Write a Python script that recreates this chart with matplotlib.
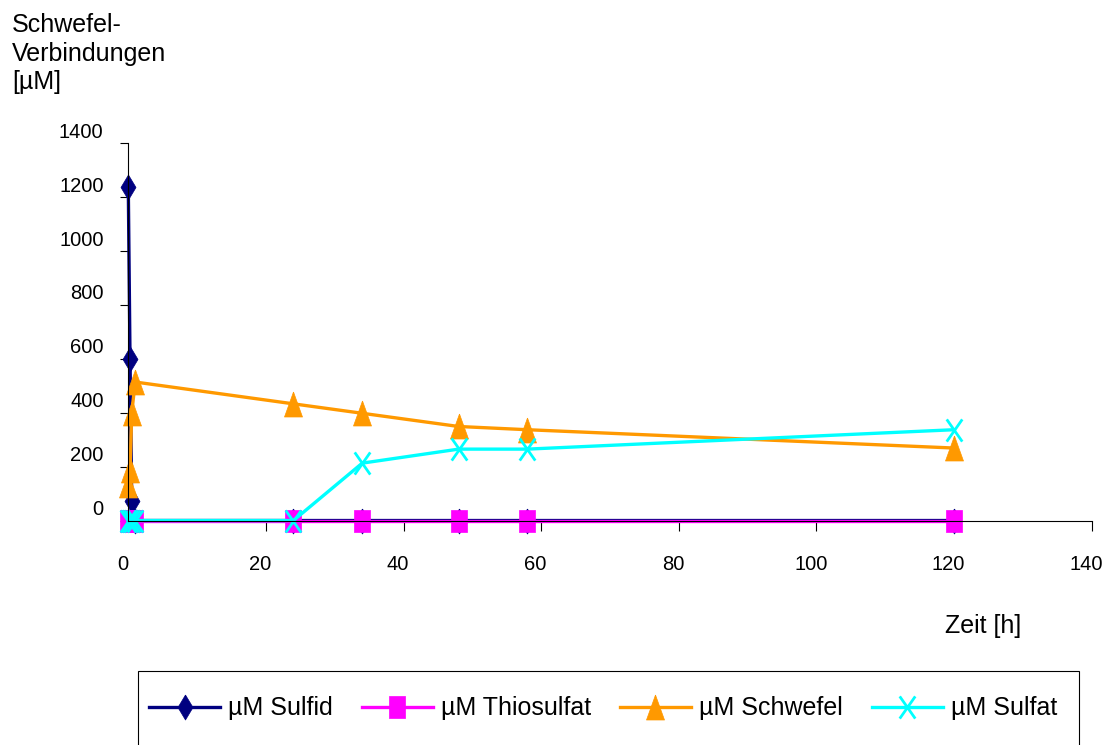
import matplotlib
matplotlib.use("Agg")
import matplotlib.pyplot as plt
from matplotlib.path import Path
from matplotlib.patches import Rectangle
from matplotlib.transforms import ScaledTranslation

plt.rcParams['font.family'] = ['Liberation Sans', 'DejaVu Sans']

hours = [0, 0.25, 0.5, 1, 24, 34, 48, 58, 120]
sulfid = [1236, 601, 71, 0, 0, 0, 0, 0, 0]
thiosulfat = [0, 0, 0, 0, 0, 0, 0, 0, 0]
schwefel = [131, 186, 399, 514, 433, 398, 349, 337, 269]
sulfat = [0, 0, 0, 0, 0, 213, 265, 265, 337]

labels = ["µM Sulfid", "µM Thiosulfat", "µM Schwefel", "µM Sulfat"]
x_ticks = list(range(0, 141, 20))
y_ticks = list(range(0, 1401, 200))

# schmale Marker wie im Original
diamond = Path([(0, 1), (0.6, 0), (0, -1), (-0.6, 0), (0, 1)])
rect = Path([(-0.72, -1), (0.72, -1), (0.72, 1), (-0.72, 1), (-0.72, -1)])
tri = Path([(0, 1), (0.72, -1), (-0.72, -1), (0, 1)])
cross = Path([(-0.7, -1), (0.7, 1), (-0.7, 1), (0.7, -1)],
             [Path.MOVETO, Path.LINETO, Path.MOVETO, Path.LINETO])

fig = plt.figure(figsize=(11.06, 7.45), dpi=100)
ax = fig.add_axes([0.1160, 0.3013, 0.8710, 0.5064])

lw = 2.4
ax.plot(hours, sulfid, color='#000080', lw=lw, marker=diamond, ms=18,
        mec='#000080', mew=0.5, clip_on=False, label=labels[0])
ax.plot(hours, thiosulfat, color='#FF00FF', lw=lw, marker=rect, ms=16,
        mec='#FF00FF', mew=0.5, clip_on=False, label=labels[1])
ax.plot(hours, schwefel, color='#FF9900', lw=lw, marker=tri, ms=18,
        mec='#FF9900', mew=0.5, clip_on=False, label=labels[2])
ax.plot(hours, sulfat, color='#00FFFF', lw=lw, marker=cross, ms=16,
        mfc='none', mec='#00FFFF', mew=2, clip_on=False, label=labels[3])

ax.set_xlim(0, 140)
ax.set_ylim(0, 1400)
ax.set_xticks(x_ticks)
ax.set_yticks(y_ticks)
ax.spines['top'].set_visible(False)
ax.spines['right'].set_visible(False)
ax.spines['left'].set_linewidth(0.8)
ax.spines['bottom'].set_linewidth(0.8)
ax.tick_params(axis='x', direction='out', length=7, width=0.8, pad=18, labelsize=14.5)
ax.tick_params(axis='y', direction='out', length=5.8, width=0.8, pad=12, labelsize=14.5)

# Excel setzt die Beschriftungen leicht versetzt zu den Strichen
shift_y = ScaledTranslation(0, 0.13, fig.dpi_scale_trans)
for lbl in ax.get_yticklabels():
    lbl.set_transform(lbl.get_transform() + shift_y)
shift_x = ScaledTranslation(-0.055, 0, fig.dpi_scale_trans)
for lbl in ax.get_xticklabels():
    lbl.set_transform(lbl.get_transform() + shift_x)

W, H = 1106, 745
for txt, base in zip(["Schwefel-", "Verbindungen", "[µM]"], [31.7, 60.7, 89.3]):
    fig.text(12 / W, 1 - base / H, txt, fontsize=18, va='baseline', ha='left')
fig.text(945 / W, 1 - 632.7 / H, "Zeit [h]", fontsize=18, va='baseline', ha='left')

fig.legend(loc='center left', bbox_to_anchor=(136.5 / W, 1 - 708.5 / H),
           ncol=4, frameon=False, fontsize=18, borderpad=0,
           handlelength=2.84, handletextpad=0.33, columnspacing=1.15)
fig.patches.append(Rectangle((137.7 / W, -0.05), (1079.3 - 137.7) / W,
                             (745 - 670.7) / H + 0.05, transform=fig.transFigure,
                             fill=False, edgecolor='black', lw=0.8))

fig.savefig("out.png", dpi=100)
